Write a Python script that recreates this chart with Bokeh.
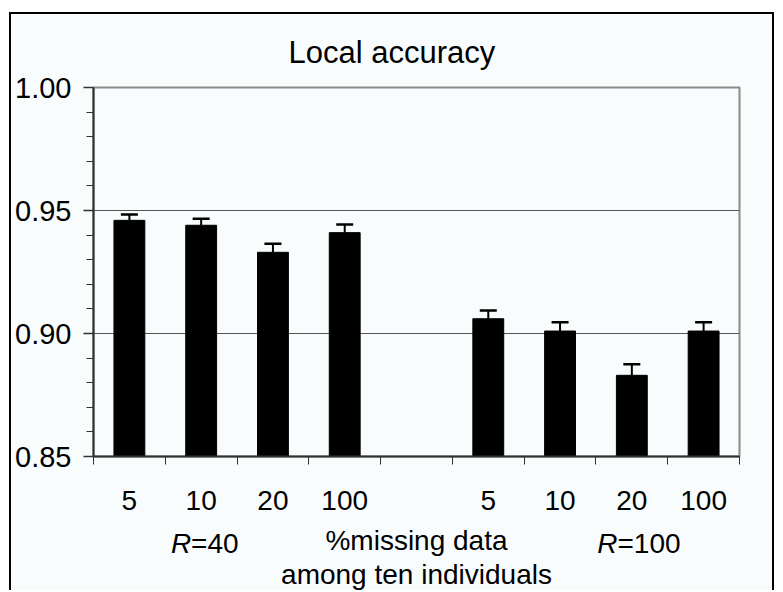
from bokeh.plotting import figure
from bokeh.models import (Range1d, FixedTicker, PrintfTickFormatter, Whisker,
                          TeeHead, ColumnDataSource)
from bokeh.core.properties import value
from bokeh.embed import file_html
from bokeh.resources import INLINE

# ---- data ----
title_text = "Local accuracy"
missing_pct = ["5", "10", "20", "100"]          # % missing data
r_values = ["40", "100"]                         # R of each group
acc_r40 = [0.946, 0.944, 0.933, 0.941]
err_r40 = [0.0024, 0.0026, 0.0035, 0.0033]
acc_r100 = [0.906, 0.901, 0.883, 0.901]
err_r100 = [0.0034, 0.0036, 0.0045, 0.0036]
y_ticks = [0.85, 0.90, 0.95, 1.00]
x_title = "%missing data\namong ten individuals"

FONT = "Liberation Sans"
BG = "#f8fcfd"

# slots: 4 bars, one empty slot, 4 bars
n = len(missing_pct)
groups = [acc_r40, acc_r100]
errs = [err_r40, err_r100]
xs, tops, uppers, labels = [], [], [], {}
for g, (vals, es) in enumerate(zip(groups, errs)):
    for i, (v, e) in enumerate(zip(vals, es)):
        c = g * (n + 1) + i + 0.5
        xs.append(c)
        tops.append(v)
        uppers.append(v + e)
        labels[c] = missing_pct[i]
n_slots = 2 * n + 1

src = ColumnDataSource(dict(x=xs, top=tops, upper=uppers))

p = figure(width=765, height=578, output_backend="svg", toolbar_location=None,
           x_range=Range1d(0, n_slots), y_range=Range1d(y_ticks[0], y_ticks[-1]),
           min_border_left=82, min_border_right=37, min_border_top=73,
           min_border_bottom=136, background_fill_color=BG, border_fill_color=BG)
p.styles = {"margin-left": "9px", "margin-top": "12px",
            "border-left": "2px solid black", "border-top": "2px solid black",
            "border-right": "2px solid black"}

p.outline_line_color = "#8a8a8a"
p.outline_line_width = 2

# title
p.title.text = title_text
p.title.text_font = FONT
p.title.text_font_size = "31px"
p.title.text_font_style = "normal"
p.title.align = "left"
p.title.offset = 195
p.title.standoff = 35
p.title.text_color = "black"

# bars
p.vbar(x="x", top="top", bottom=y_ticks[0], width=0.43, source=src,
       fill_color="black", line_color="black")
p.add_layout(Whisker(base="x", lower="top", upper="upper", source=src,
                     line_width=2, line_color="black",
                     upper_head=TeeHead(size=17, line_width=2.5, line_color="black"),
                     lower_head=None))

# y axis
minor = [round(y_ticks[0] + 0.01 * k, 2) for k in range(16)]
minor = [m for m in minor if m not in y_ticks]
p.yaxis.ticker = FixedTicker(ticks=y_ticks, minor_ticks=minor)
p.yaxis.formatter = PrintfTickFormatter(format="%.2f")
p.yaxis.major_label_text_font = FONT
p.yaxis.major_label_text_font_size = "29px"
p.yaxis.major_label_text_color = "black"
p.yaxis.major_tick_out = 10
p.yaxis.major_tick_in = 0
p.yaxis.minor_tick_out = 7
p.yaxis.minor_tick_in = 0
p.yaxis.major_label_standoff = 12
p.yaxis.axis_line_color = "#303030"
p.yaxis.axis_line_width = 2
p.yaxis.major_tick_line_color = "#303030"
p.yaxis.minor_tick_line_color = "#303030"
p.yaxis.major_tick_line_width = 1.5

# x axis
p.xaxis.ticker = FixedTicker(ticks=xs, minor_ticks=list(range(n_slots + 1)))
p.xaxis.major_label_overrides = labels
p.xaxis.major_label_text_font = FONT
p.xaxis.major_label_text_font_size = "28px"
p.xaxis.major_label_text_color = "black"
p.xaxis.major_tick_line_color = None
p.xaxis.major_tick_out = 0
p.xaxis.major_tick_in = 0
p.xaxis.minor_tick_out = 8
p.xaxis.minor_tick_in = 0
p.xaxis.minor_tick_line_color = "#303030"
p.xaxis.major_label_standoff = 26
p.xaxis.axis_line_color = "#303030"
p.xaxis.axis_line_width = 2
p.xaxis.axis_label = x_title
p.xaxis.axis_label_text_font = FONT
p.xaxis.axis_label_text_font_size = "28px"
p.xaxis.axis_label_text_font_style = "normal"
p.xaxis.axis_label_text_color = "black"
p.xaxis.axis_label_standoff = 12
p.xaxis.axis_label_text_line_height = 1.1

# grid
p.xgrid.grid_line_color = None
p.ygrid.ticker = FixedTicker(ticks=y_ticks[1:3])
p.ygrid.grid_line_color = "#555555"
p.ygrid.grid_line_width = 1

# group labels  R=40 / R=100 (italic R), drawn above the frame clip
group_label_x = [1.36, 7.30]
label_y = 0.8145
p.text(x=group_label_x, y=[label_y] * 2, text=["R"] * 2, level="overlay",
       text_font=value(FONT), text_font_size="28px", text_font_style="italic",
       text_align="right", text_baseline="alphabetic", text_color="black")
p.text(x=group_label_x, y=[label_y] * 2, text=["=" + r for r in r_values],
       level="overlay", text_font=value(FONT), text_font_size="28px",
       text_align="left", text_baseline="alphabetic", text_color="black")

open("out.html", "w").write(file_html(p, INLINE))
